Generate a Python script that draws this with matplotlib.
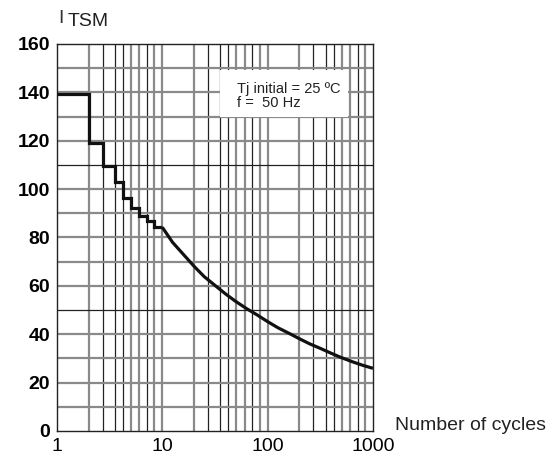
import numpy as np
import matplotlib.pyplot as plt
from matplotlib.ticker import FixedLocator, NullFormatter
from matplotlib.patches import Rectangle

plt.rcParams['font.family'] = ['Liberation Sans', 'DejaVu Sans']

# grid positions inside each decade, as drawn on the datasheet (not exact log)
grid_mant = [2, 2.72, 3.56, 4.22, 5.05, 6.05, 7.13, 8.38]
grid_dark = [False, True, True, True, False, False, True, False]

# step part (cycle boundaries and surge current)
step_edges = [1, 2, 2.72, 3.56, 4.22, 5.05, 6.05, 7.13, 8.38, 10]
step_vals = [139.5, 119, 109.5, 103, 96.5, 92, 89, 87, 84.2]

# continuous part
curve_x = [10, 12.5, 16, 20, 25, 32, 40, 50, 63, 80, 100,
           125, 160, 200, 250, 320, 400, 500, 630, 800, 1000]
curve_y = [84.2, 78.0, 72.8, 68.1, 63.8, 60.0, 56.6, 53.5, 50.6, 47.9, 45.2,
           42.7, 40.35, 38.15, 36.05, 34.05, 32.15, 30.35, 28.7, 27.15, 25.9]

yticks = [0, 20, 40, 60, 80, 100, 120, 140, 160]
xticks = [1, 10, 100, 1000]
xtick_labels = ['1', '10', '100', '1000']

fig = plt.figure(figsize=(5.52, 4.61), dpi=100)
ax = fig.add_axes([0.1033, 0.0651, 0.5724, 0.8395])

ax.set_xscale('log')
ax.set_xlim(1, 1000)
ax.set_ylim(0, 160)

# grid
gray = '#8a8a8a'
for dec in [1, 10, 100]:
    for m, dark in zip(grid_mant, grid_dark):
        if dark:
            ax.axvline(m * dec, color='#222222', lw=0.9, zorder=1)
        else:
            ax.axvline(m * dec, color=gray, lw=1.6, zorder=1)
for v in [10, 100]:
    ax.axvline(v, color=gray, lw=1.6, zorder=1)
for h in range(10, 160, 10):
    if h in (50, 110):
        ax.axhline(h, color='#222222', lw=0.9, zorder=1)
    else:
        ax.axhline(h, color=gray, lw=1.6, zorder=1)

ax.stairs(step_vals, step_edges, baseline=None, color='#111111', lw=2.3, zorder=3)
ax.plot(curve_x, curve_y, color='#111111', lw=2.3, zorder=3,
        solid_capstyle='butt', solid_joinstyle='round')

ax.xaxis.set_major_locator(FixedLocator(xticks))
ax.xaxis.set_minor_locator(FixedLocator([]))
ax.xaxis.set_minor_formatter(NullFormatter())
ax.set_xticklabels(xtick_labels, fontsize=14)
ax.set_yticks(yticks)
ax.set_yticklabels([str(t) for t in yticks], fontsize=14, fontweight='bold')
ax.tick_params(length=0)
ax.tick_params(axis='y', pad=5)
ax.tick_params(axis='x', pad=5)
for s in ax.spines.values():
    s.set_color('#222222')
    s.set_linewidth(1.0)

# annotation box
ax.add_patch(Rectangle((0.516, 0.811), 0.405, 0.122, transform=ax.transAxes,
                       facecolor='white', edgecolor='none', zorder=2))
ax.text(0.57, 0.866, 'Tj initial = 25 \u00baC\nf =  50 Hz', transform=ax.transAxes,
        fontsize=10.5, linespacing=0.95, va='center', ha='left', zorder=4,
        color='#222222')

fig.text(58 / 552, 1 - 18.5 / 461, 'I', fontsize=14, va='center', ha='left',
         color='#333333', fontweight='light')
fig.text(68 / 552, 1 - 21.5 / 461, 'TSM', fontsize=14, va='center', ha='left',
         color='#222222')
fig.text(395 / 552, 1 - 425 / 461, 'Number of cycles', fontsize=14, va='center',
         ha='left', color='#222222')

fig.savefig('out.png', dpi=100)
